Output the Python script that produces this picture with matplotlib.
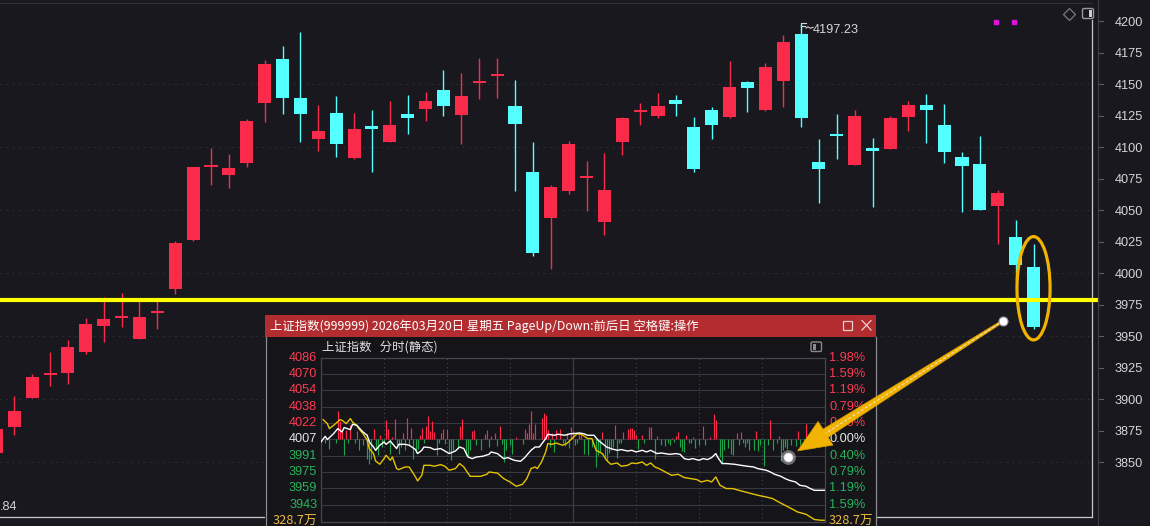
import numpy as np
import matplotlib
matplotlib.use("Agg")
import matplotlib.pyplot as plt
from matplotlib.patches import Rectangle, Ellipse, Polygon, FancyBboxPatch

plt.rcParams['font.family'] = ['Noto Sans CJK SC', 'DejaVu Sans']

# -----------------------------------------------------
#   DAILY CANDLES (上证指数)
# -----------------------------------------------------
opens = [3857.4, 3878.0, 3901.0, 3919.2, 3920.9, 3937.5, 3958.2, 3964.4, 3947.6, 3968.4,
         3987.5, 4026.4, 4084.5, 4078.0, 4087.3, 4134.9, 4169.8, 4138.9, 4106.3, 4127.0,
         4091.3, 4116.7, 4104.0, 4126.2, 4130.2, 4145.2, 4125.4, 4150.9, 4156.3, 4132.5,
         4080.2, 4043.7, 4065.1, 4075.5, 4040.7, 4104.0, 4127.9, 4124.6, 4137.3, 4115.9,
         4129.4, 4123.8, 4151.6, 4129.4, 4152.4, 4189.7, 4088.1, 4110.3, 4085.7, 4099.2,
         4098.4, 4123.8, 4133.3, 4117.5, 4092.1, 4086.5, 4053.2, 4028.6, 4004.8]
highs = [3878.0, 3902.4, 3919.8, 3937.3, 3946.8, 3964.3, 3981.0, 3984.1, 3979.5, 3980.0,
         4025.4, 4084.1, 4099.2, 4094.4, 4122.2, 4169.0, 4180.2, 4191.3, 4133.3, 4140.5,
         4127.0, 4129.4, 4136.5, 4141.3, 4143.7, 4161.1, 4158.7, 4170.6, 4170.6, 4153.2,
         4104.0, 4069.8, 4104.8, 4088.9, 4095.2, 4123.8, 4134.9, 4142.9, 4141.3, 4123.8,
         4131.7, 4168.3, 4152.4, 4166.7, 4188.9, 4197.23, 4106.3, 4126.2, 4129.4, 4107.1,
         4124.6, 4136.5, 4142.1, 4134.1, 4096.0, 4108.7, 4065.9, 4042.1, 4023.0]
lows = [3855.0, 3871.4, 3901.0, 3910.6, 3912.1, 3936.0, 3945.5, 3957.4, 3947.6, 3955.8,
        3983.6, 4025.6, 4070.1, 4067.7, 4084.4, 4119.8, 4126.2, 4104.0, 4096.8, 4092.1,
        4090.5, 4080.2, 4104.0, 4110.3, 4120.6, 4124.6, 4102.4, 4138.1, 4138.9, 4065.1,
        4013.5, 4003.2, 4062.7, 4049.2, 4030.2, 4093.7, 4117.5, 4123.0, 4124.6, 4080.2,
        4106.3, 4123.0, 4127.8, 4128.6, 4131.7, 4115.9, 4055.6, 4090.5, 4085.7, 4052.4,
        4098.4, 4112.7, 4103.2, 4087.3, 4048.4, 4050.0, 4023.0, 3994.4, 3955.6]
closes = [3876.2, 3890.5, 3917.5, 3920.0, 3941.3, 3959.5, 3963.5, 3965.2, 3965.1, 3969.2,
          4023.8, 4084.1, 4085.8, 4083.3, 4120.6, 4165.9, 4138.9, 4126.2, 4112.7, 4102.4,
          4114.3, 4114.3, 4117.5, 4123.0, 4136.5, 4132.5, 4140.5, 4151.7, 4157.9, 4118.3,
          4015.9, 4068.3, 4102.4, 4076.3, 4065.9, 4123.0, 4128.7, 4132.5, 4134.1, 4082.5,
          4117.5, 4147.6, 4146.8, 4163.5, 4183.3, 4123.0, 4082.5, 4108.7, 4124.6, 4096.8,
          4123.0, 4133.3, 4129.4, 4096.0, 4084.9, 4050.0, 4063.5, 4006.3, 3957.1]

support_level = 3978.6
peak_label = "4197.23"
low_label = ".84"
price_ticks = [4200, 4175, 4150, 4125, 4100, 4075, 4050, 4025, 4000,
               3975, 3950, 3925, 3900, 3875, 3850]
grid_levels = [4150, 4100, 4050, 4000, 3950, 3900, 3850]

# -----------------------------------------------------
#   INTRADAY POPUP (2026-03-20)
# -----------------------------------------------------
popup_title = "上证指数(999999) 2026年03月20日 星期五 PageUp/Down:前后日 空格键:操作"
popup_header = "上证指数   分时(静态)"
prev_close = 4007.0
intraday_ticks = [4086.3, 4070.4, 4054.5, 4038.6, 4022.8, 4007.0, 3991.2, 3975.4, 3959.5, 3943.6]
left_labels = ["4086", "4070", "4054", "4038", "4022", "4007", "3991", "3975", "3959", "3943"]
right_labels = ["1.98%", "1.59%", "1.19%", "0.79%", "0.40%", "0.00%", "0.40%", "0.79%", "1.19%", "1.59%"]
vol_label = "328.7万"

white_min = [0, 2, 3, 6, 8, 10, 11, 14, 15, 17, 18, 20, 22, 23, 25, 26, 28, 30, 31, 33,
             34, 36, 37, 40, 42, 45, 46, 48, 49, 52, 54, 57, 59, 61, 64, 66, 68, 70, 72, 74,
             77, 80, 81, 84, 87, 89, 92, 95, 97, 100, 102, 104, 107, 108, 111, 113, 116, 119, 120, 123,
             125, 127, 130, 132, 134, 136, 138, 141, 143, 146, 148, 150, 153, 155, 157, 160, 162, 166, 169, 171,
             173, 175, 177, 180, 182, 184, 186, 188, 189, 191, 193, 197, 200, 203, 206, 208, 212, 214, 216, 219,
             221, 223, 226, 228, 231, 233, 235, 238, 240]
white_val = [4004.4, 4009.9, 4006.7, 4012.5, 4017.4, 4014.1, 4018.4, 4016.4, 4021.6, 4020.6,
             4018.4, 4014.1, 4010.9, 4004.4, 3999.5, 3996.3, 4001.2, 4004.4, 4002.1, 4005.3,
             4002.8, 3998.0, 4002.1, 4002.1, 4001.2, 3997.0, 3993.1, 3996.3, 3999.5, 3998.9,
             3997.0, 3998.0, 3995.6, 3993.1, 3995.6, 3999.5, 3998.0, 3989.8, 3988.2, 3989.8,
             3990.5, 3992.4, 3994.7, 3993.1, 3988.2, 3989.2, 3986.6, 3985.6, 3989.2, 3996.3,
             3999.5, 3999.5, 4007.7, 4011.9, 4010.9, 4011.9, 4010.9, 4012.5, 4012.5, 4013.1,
             4012.5, 4010.9, 4010.9, 4006.0, 4002.8, 3999.5, 3998.0, 3996.3, 3997.0, 3995.6,
             3996.3, 3994.7, 3996.3, 3994.7, 3996.3, 3993.1, 3993.7, 3992.4, 3993.1, 3992.4,
             3988.2, 3987.3, 3988.2, 3986.6, 3988.2, 3987.3, 3989.2, 3993.1, 3989.2, 3983.4,
             3983.4, 3982.7, 3981.7, 3980.8, 3980.1, 3978.5, 3976.9, 3975.2, 3973.0, 3971.0,
             3968.8, 3967.1, 3965.5, 3962.3, 3961.3, 3959.1, 3957.4, 3957.4, 3957.4]

yellow_min = [1, 3, 4, 6, 7, 9, 10, 12, 14, 15, 17, 18, 20, 22, 23, 25, 26, 28, 30, 31,
              33, 34, 36, 37, 40, 42, 45, 46, 48, 49, 52, 54, 57, 59, 61, 64, 66, 68, 71, 73,
              76, 79, 80, 84, 87, 90, 93, 96, 98, 100, 102, 103, 105, 107, 108, 110, 112, 115, 117, 119,
              122, 124, 127, 129, 131, 134, 136, 138, 141, 143, 146, 148, 150, 153, 155, 157, 159, 161, 164, 167,
              170, 173, 176, 179, 181, 184, 186, 188, 190, 193, 196, 199, 202, 205, 208, 212, 215, 218, 221, 224,
              227, 231, 233, 235, 238, 240]
yellow_val = [4026.1, 4022.3, 4017.4, 4020.6, 4022.3, 4026.1, 4025.5, 4022.3, 4027.1, 4023.8,
              4020.6, 4017.4, 4012.5, 4006.0, 3998.0, 3993.1, 3985.9, 3982.7, 3988.2, 3991.4,
              3986.6, 3989.8, 3978.5, 3977.5, 3980.1, 3980.1, 3970.4, 3966.5, 3972.0, 3981.7,
              3981.7, 3980.8, 3982.4, 3980.8, 3976.9, 3978.5, 3983.4, 3980.1, 3971.0, 3971.0,
              3971.0, 3973.0, 3975.2, 3974.2, 3968.8, 3965.5, 3961.3, 3963.3, 3968.8, 3978.5,
              3980.1, 3978.5, 3984.9, 3994.7, 4002.8, 4002.1, 4003.4, 4001.2, 4002.8, 4006.7,
              4012.5, 4011.9, 4007.7, 4007.7, 3996.3, 3993.1, 3986.6, 3982.7, 3984.0, 3980.8,
              3981.7, 3984.0, 3983.4, 3984.9, 3981.7, 3984.0, 3980.1, 3978.5, 3975.2, 3972.0,
              3973.0, 3969.8, 3968.8, 3967.8, 3965.5, 3967.1, 3965.5, 3970.4, 3962.3, 3959.1,
              3959.1, 3957.4, 3955.8, 3954.2, 3952.6, 3950.9, 3949.4, 3946.0, 3942.8, 3939.6,
              3936.3, 3934.1, 3931.5, 3929.0, 3928.3, 3928.3]

# red/green strength bars around the zero line (signed, index points)
bar_min = [2, 4, 7, 8, 9, 10, 11, 12, 13, 14, 16, 17, 18, 20, 22, 23, 24, 25, 26, 27,
           28, 29, 30, 31, 32, 33, 34, 35, 36, 37, 38, 39, 40, 41, 42, 43, 44, 45, 46, 47,
           48, 49, 50, 51, 52, 53, 54, 55, 56, 57, 58, 59, 60, 61, 62, 63, 65, 66, 67, 69,
           70, 71, 72, 73, 74, 76, 78, 79, 80, 81, 83, 84, 85, 86, 87, 88, 90, 91, 93, 96,
           97, 98, 99, 100, 101, 102, 105, 106, 107, 108, 109, 110, 111, 112, 114, 115, 116, 117, 118, 119,
           120, 121, 122, 123, 124, 125, 127, 129, 131, 132, 133, 134, 135, 136, 137, 138, 139, 140, 141, 142,
           143, 144, 146, 147, 148, 149, 150, 151, 153, 154, 156, 157, 159, 160, 162, 164, 165, 166, 167, 168,
           169, 170, 171, 172, 173, 174, 175, 176, 177, 178, 180, 182, 183, 185, 187, 188, 190, 191, 192, 194,
           195, 196, 198, 199, 200, 201, 202, 203, 204, 206, 207, 208, 209, 211, 213, 214, 215, 217, 218, 219,
           220, 221, 222, 224, 226, 227, 228, 230, 231, 233, 235, 240]
bar_val = [-3.3, -9.0, -4.0, 27.7, 17.7, 7.7, -15.7, 9.3, -3.3, 14.3, -3.3, 7.7, -10.0, -5.7, -19.0, -24.0, -19.0, 10.0, -10.7, -15.7,
           4.3, -7.3, -4.0, 18.7, 10.0, -14.0, 2.7, 20.0, -5.7, -14.0, -7.3, 6.0, -10.7, 21.0, -5.7, 11.0, -19.0, -13.3, -9.0, 4.3,
           11.0, -4.0, 12.7, 22.7, 7.7, 17.7, 6.7, -15.7, -3.3, 6.0, 10.0, -4.7, 10.0, -13.3, -20.0, -10.7, -7.3, 13.3, 20.0, -15.7,
           -16.7, -10.7, 7.7, 8.7, -5.7, -10.0, 5.3, 9.3, -7.3, 3.3, 6.0, -6.7, 13.3, -4.7, -22.3, -10.0, -5.7, -14.7, 2.0, -4.7,
           10.0, 6.0, 15.3, 27.7, 6.0, 15.3, 21.0, 25.3, 23.3, 8.7, -7.3, 6.0, -12.3, 9.3, 10.0, -4.0, -6.7, 6.0, -8.0, 12.0,
           7.7, -5.7, -4.0, 6.7, 6.0, -14.7, -15.7, -7.3, -27.3, -15.7, -12.3, 6.7, -18.0, -20.0, -13.3, -10.0, -7.3, 14.3, -18.0, -4.0,
           -3.3, 6.7, 10.0, 11.0, 11.0, 9.3, 4.3, -9.0, 4.3, -3.3, 12.0, 12.0, -19.0, 3.3, -5.7, -6.7, -4.0, -5.7, 1.0, -2.3,
           3.3, 6.7, -7.3, -11.3, -12.3, 4.3, -3.3, -4.0, 2.0, -8.0, -5.7, 12.7, -5.7, 2.7, 24.3, 18.7, -17.3, -23.3, -10.0, -8.0,
           -14.0, -15.7, 6.0, -5.7, 6.7, -3.3, -7.3, -4.0, -10.0, -10.7, 7.7, -11.3, -5.7, -25.7, -5.7, 18.7, -10.7, -3.3, 3.3, -20.7,
           -10.7, -7.3, -9.0, -5.7, -6.7, 7.7, -5.7, -7.3, 15.3, -9.0, -5.7, -4.7]

# -----------------------------------------------------
#   STYLE
# -----------------------------------------------------
W, H = 1150, 526
BG = "#18181e"
RED = "#fa2a4a"
CYAN = "#54ffff"
TXT = "#d6d6d6"
NUMFONT = "Liberation Sans"
NUMSIZE = 9.2


def fx(px):
    return px / W


def fy(py):
    return 1 - py / H


fig = plt.figure(figsize=(W / 100, H / 100), dpi=100, facecolor=BG)

# -----------------------------------------------------
#   MAIN CANDLE CHART
# -----------------------------------------------------
ax = fig.add_axes([0, fy(517), fx(1092), (517 - 3) / H])
ax.set_facecolor(BG)
ax.set_xlim(0.2, 61.27)
ax.set_ylim(3806.35, 4214.29)
ax.set_xticks([])

ax.spines["left"].set_visible(False)
ax.spines["top"].set_color("#303036")
ax.spines["bottom"].set_color("#c8c8c8")
ax.spines["bottom"].set_linewidth(0.9)
ax.spines["right"].set_color("#c8c8c8")
ax.spines["right"].set_linewidth(0.9)
ax.spines["right"].set_bounds(3806.35, 4200.8)

ax.yaxis.tick_right()
ax.set_yticks(price_ticks)
ax.set_yticklabels([str(v) for v in price_ticks], fontfamily=NUMFONT)
ax.tick_params(axis="y", length=0, pad=16.4, labelsize=NUMSIZE, labelcolor=TXT)
for v in price_ticks:
    ax.plot([1098 / 1092, 1103 / 1092], [v, v], transform=ax.get_yaxis_transform(),
            clip_on=False, color="#5c5c62", lw=0.8)

for v in grid_levels:
    ax.axhline(v, color="#3b3b42", lw=0.75, ls=(0, (1, 5)), zorder=0)

x = np.arange(len(opens))
o = np.array(opens)
c = np.array(closes)
cols = np.where(c >= o, RED, CYAN)
ax.vlines(x, lows, highs, colors=cols, lw=1.0, zorder=2)
ax.bar(x, np.maximum(np.abs(c - o), 1.6), bottom=np.minimum(o, c), width=0.73,
       color=cols, lw=0, zorder=2)

# yellow support line
ax.axhline(support_level, xmin=0, xmax=1.0043, color="#ffff00", lw=3.0, clip_on=False, zorder=3)

# orange ring round the last candle
last = len(opens) - 1
ax.add_patch(Ellipse((last, (highs[-1] + lows[-1]) / 2 - 1.4), 1.85, 82,
                     fill=False, ec="#f2b300", lw=2.3, zorder=4))

# peak label
i_pk = int(np.argmax(highs))
ax.annotate(peak_label, xy=(i_pk, highs[i_pk]), xytext=(8.6, -4.0), textcoords="offset points",
            ha="left", va="center", color=TXT, fontsize=NUMSIZE, fontfamily=NUMFONT)

# -----------------------------------------------------
#   POPUP FRAME
# -----------------------------------------------------
axp = fig.add_axes([0, 0, 1, 1], zorder=2)
axp.set_xlim(0, W)
axp.set_ylim(H, 0)
axp.axis("off")
axp.add_patch(Rectangle((265, 315), 611, 215, fc="#141419", ec="none"))
axp.add_patch(Rectangle((265, 315), 611, 22, fc="#b22c30", ec="none"))
axp.plot([265.5, 265.5], [337, 526], color="#8c8c90", lw=0.9)
axp.plot([876, 876], [337, 526], color="#8c8c90", lw=0.9)
axp.text(270, 326.5, popup_title, color="white", fontsize=8.9, ha="left", va="center")
axp.add_patch(Rectangle((842.5, 320.5), 9.5, 9.5, fill=False, ec="#e6cfcf", lw=0.9))
axp.plot([862, 871], [320.5, 330], color="#e6cfcf", lw=0.9)
axp.plot([862, 871], [330, 320.5], color="#e6cfcf", lw=0.9)
axp.text(322, 347.5, popup_header, color="#e0e0e0", fontsize=8.9, ha="left", va="center")
axp.add_patch(FancyBboxPatch((811, 342), 10.5, 9.5, boxstyle="round,pad=0,rounding_size=1.5",
                             fill=False, ec="#8a8a8a", lw=1.0))
axp.add_patch(Rectangle((812.5, 343.5), 3, 6.5, fc="#8a8a8a", ec="none"))
axp.text(317, 521, vol_label, color="#f0b848", fontsize=NUMSIZE, ha="right", va="center")
axp.text(829, 521, vol_label, color="#f0b848", fontsize=NUMSIZE, ha="left", va="center")

# -----------------------------------------------------
#   INTRADAY CHART
# -----------------------------------------------------
ax2 = fig.add_axes([fx(321), fy(521.7), 504 / W, 164 / H], zorder=3)
ax2.set_facecolor("none")
ax2.set_xlim(0, 240)
ax2.set_ylim(3926.9, 4086.3)
ax2.set_xticks([])
ax2.set_yticks([])
for s in ax2.spines.values():
    s.set_color("#46464d")
    s.set_linewidth(0.9)

for v in intraday_ticks:
    ax2.axhline(v, color="#38383f", lw=0.8, zorder=0)
for m in [30, 60, 90, 150, 180, 210]:
    ax2.axvline(m, color="#4a4a52", lw=0.75, ls=(0, (1, 3)), zorder=0)
ax2.axvline(120, color="#3e3e46", lw=0.9, zorder=0)

bv = np.array(bar_val)
ax2.vlines(bar_min, prev_close, prev_close + bv,
           colors=np.where(bv > 0, "#ff2a4b", "#1fa34a"), lw=0.85, zorder=1)
ax2.plot(yellow_min, yellow_val, color="#e6c300", lw=1.0, zorder=2)
ax2.plot(white_min, white_val, color="white", lw=1.0, zorder=3)

for v, lab, rlab in zip(intraday_ticks, left_labels, right_labels):
    if v > prev_close + 1:
        col = "#ff3a52"
    elif v < prev_close - 1:
        col = "#28b45a"
    else:
        col = "#e6e6e6"
    ax2.text(-0.0073, v, lab, transform=ax2.get_yaxis_transform(), ha="right", va="center",
             color=col, fontsize=NUMSIZE, fontfamily=NUMFONT, clip_on=False)
    ax2.text(1.0085, v, rlab, transform=ax2.get_yaxis_transform(), ha="left", va="center",
             color=col, fontsize=NUMSIZE, fontfamily=NUMFONT, clip_on=False)

# -----------------------------------------------------
#   OVERLAY: arrow, markers, icons
# -----------------------------------------------------
ax3 = fig.add_axes([0, 0, 1, 1], zorder=5)
ax3.set_xlim(0, W)
ax3.set_ylim(H, 0)
ax3.axis("off")

ax3.plot([1097.5, 1097.5], [0, H], color="#3a3a40", lw=0.9)

tail = np.array([1003.0, 321.0])
tip_dot = np.array([788.0, 457.0])
u = (tip_dot - tail) / np.linalg.norm(tip_dot - tail)
n = np.array([-u[1], u[0]])
base = tail + u * 210
tip = tail + u * 243
arrow = [tail + n * 1.2, base + n * 4.8, base + n * 14, tip, base - n * 14, base - n * 4.8, tail - n * 1.2]
ax3.add_patch(Polygon(arrow, closed=True, fc="#f2b300", ec="#d99e00", lw=0.5))
ax3.plot([tail[0], base[0]], [tail[1], base[1]], color="#e8e8e8", lw=0.7, ls=(0, (3, 2)))
ax3.plot(*tail, marker="o", ms=6.5, mfc="white", mec="#9a9a9a", mew=0.8)
ax3.plot(*tip_dot, marker="o", ms=10, mfc="#ffffff", mec="#bbbbbb", mew=0.8, alpha=0.35)
ax3.plot(*tip_dot, marker="o", ms=6.5, mfc="white", mec="#cccccc", mew=0.6)

# flag at the peak
ax3.plot([801, 801], [30, 22.5], color=TXT, lw=0.8)
ax3.plot([801, 806], [22.5, 22.5], color=TXT, lw=0.8)
ax3.plot([801, 805], [25.5, 25.5], color=TXT, lw=0.8)
ax3.plot([806, 808, 810.5, 813], [28, 26.8, 28.3, 27.3], color=TXT, lw=0.8)

ax3.text(17, 507, low_label, color=TXT, fontsize=NUMSIZE, fontfamily=NUMFONT, ha="right", va="center")

# top-right marks and icons
ax3.plot([996, 1014], [22, 22], ls="none", marker="s", ms=2.2, color="#e010e0")
ax3.plot(1069, 14, marker="D", ms=6, mfc="none", mec="#7a7a80", mew=0.9)
ax3.add_patch(FancyBboxPatch((1082.5, 8.5), 11, 10, boxstyle="round,pad=0,rounding_size=1.5",
                             fill=False, ec="#9a9a9a", lw=1.0))
ax3.add_patch(Rectangle((1088.5, 10), 3.5, 7, fc="#cfcfcf", ec="none"))

fig.savefig("out.png", dpi=100, facecolor=BG)
